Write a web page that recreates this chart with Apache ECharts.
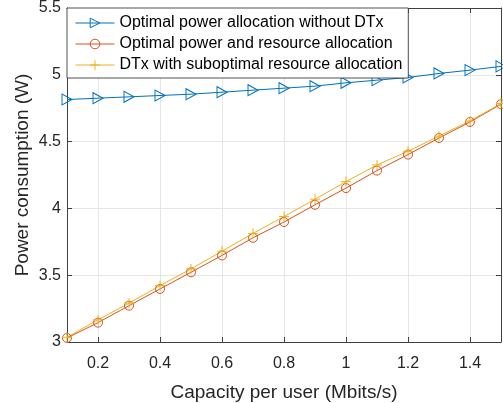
<!DOCTYPE html>
<html>
<head>
<meta charset="utf-8">
<script src="https://cdn.jsdelivr.net/npm/echarts@6/dist/echarts.min.js"></script>
<style>
  html, body { margin: 0; padding: 0; background: #fff; }
  #chart { width: 503px; height: 403px; }
</style>
</head>
<body>
<div id="chart"></div>
<script>
// capacity per user (Mbits/s)
var capacity = [0.1, 0.2, 0.3, 0.4, 0.5, 0.6, 0.7, 0.8, 0.9, 1.0, 1.1, 1.2, 1.3, 1.4, 1.5];
// power consumption (W)
var noDtx = [4.815, 4.825, 4.835, 4.845, 4.855, 4.87, 4.885, 4.9, 4.915, 4.94, 4.96, 4.98, 5.01, 5.035, 5.063];
var optimal = [3.03, 3.145, 3.272, 3.397, 3.522, 3.648, 3.78, 3.898, 4.027, 4.152, 4.283, 4.403, 4.527, 4.647, 4.78];
var dtxSub = [3.035, 3.166, 3.291, 3.422, 3.547, 3.68, 3.813, 3.939, 4.069, 4.2, 4.325, 4.428, 4.541, 4.655, 4.785];
var seriesNames = [
  'Optimal power allocation without DTx',
  'Optimal power and resource allocation',
  'DTx with suboptimal resource allocation'
];
var seriesColors = ['#0072BD', '#D95319', '#EDB120'];
var xTicks = [0.2, 0.4, 0.6, 0.8, 1.0, 1.2, 1.4];

var axisColor = '#404040';
var textColor = '#262626';
var font = 'Liberation Sans';
var hollow = 'rgba(255,255,255,0)';

function pairs(ys) {
  return capacity.map(function (x, i) { return [x, ys[i]]; });
}

var chart = echarts.init(document.getElementById('chart'));

var option = {
  animation: false,
  backgroundColor: '#fff',
  textStyle: { fontFamily: font, color: textColor },
  grid: { left: 67, right: 2, top: 8, bottom: 61, containLabel: false, outerBoundsMode: 'none' },
  legend: {
    orient: 'vertical',
    left: 67,
    top: 8,
    padding: [7, 6, 5, 8],
    itemWidth: 39,
    itemHeight: 12,
    itemGap: 5,
    backgroundColor: '#fff',
    borderColor: '#262626',
    borderWidth: 0.8,
    lineStyle: { width: 1 },
    textStyle: { fontFamily: font, fontSize: 16, color: '#000' },
    // legend entries keep the hollow markers
    data: seriesNames.map(function (n, i) {
      return { name: n, itemStyle: { color: hollow, borderColor: seriesColors[i], borderWidth: 1 } };
    })
  },
  xAxis: [
    {
      type: 'value',
      min: 0.1,
      max: 1.5,
      name: 'Capacity per user (Mbits/s)',
      nameLocation: 'middle',
      nameGap: 41,
      nameMoveOverlap: false,
      nameTextStyle: { fontFamily: font, fontSize: 19, color: textColor },
      axisLine: { show: true, lineStyle: { color: axisColor, width: 1 } },
      axisTick: { show: true, inside: true, length: 5, customValues: xTicks, lineStyle: { color: axisColor } },
      axisLabel: { customValues: xTicks, fontFamily: font, fontSize: 16, color: textColor, margin: 14 },
      splitLine: { show: true, lineStyle: { color: '#e6e6e6', width: 1 } }
    },
    {
      type: 'value',
      position: 'top',
      min: 0.1,
      max: 1.5,
      axisLine: { show: true, lineStyle: { color: axisColor, width: 1 } },
      axisTick: { show: true, inside: true, length: 5, customValues: xTicks, lineStyle: { color: axisColor } },
      axisLabel: { show: false },
      splitLine: { show: false }
    }
  ],
  yAxis: [
    {
      type: 'value',
      min: 3,
      max: 5.5,
      interval: 0.5,
      name: 'Power consumption (W)',
      nameLocation: 'middle',
      nameGap: 35,
      nameMoveOverlap: false,
      nameTextStyle: { fontFamily: font, fontSize: 19, color: textColor },
      axisLine: { show: true, lineStyle: { color: axisColor, width: 1 } },
      axisTick: { show: true, inside: true, length: 5, lineStyle: { color: axisColor } },
      axisLabel: { fontFamily: font, fontSize: 16, color: textColor, margin: 6 },
      splitLine: { show: true, lineStyle: { color: '#e6e6e6', width: 1 } }
    },
    {
      type: 'value',
      position: 'right',
      min: 3,
      max: 5.5,
      interval: 0.5,
      axisLine: { show: true, lineStyle: { color: axisColor, width: 1 } },
      axisTick: { show: true, inside: true, length: 5, lineStyle: { color: axisColor } },
      axisLabel: { show: false },
      splitLine: { show: false }
    }
  ],
  series: [
    {
      name: seriesNames[0],
      type: 'line',
      data: pairs(noDtx),
      symbol: 'triangle',
      symbolRotate: -90,
      symbolSize: [11, 10],
      lineStyle: { color: seriesColors[0], width: 1 },
      itemStyle: { color: hollow, borderColor: seriesColors[0], borderWidth: 1 },
      z: 3
    },
    {
      name: seriesNames[1],
      type: 'line',
      data: pairs(optimal),
      symbol: 'circle',
      symbolSize: 9,
      lineStyle: { color: seriesColors[1], width: 1 },
      itemStyle: { color: hollow, borderColor: seriesColors[1], borderWidth: 1 },
      z: 3
    },
    {
      name: seriesNames[2],
      type: 'line',
      data: pairs(dtxSub),
      symbol: 'path://M0,5L10,5M5,0L5,10',
      symbolSize: 10,
      lineStyle: { color: seriesColors[2], width: 1 },
      itemStyle: { color: hollow, borderColor: seriesColors[2], borderWidth: 1 },
      z: 3
    }
  ]
};

chart.setOption(option);
</script>
</body>
</html>
